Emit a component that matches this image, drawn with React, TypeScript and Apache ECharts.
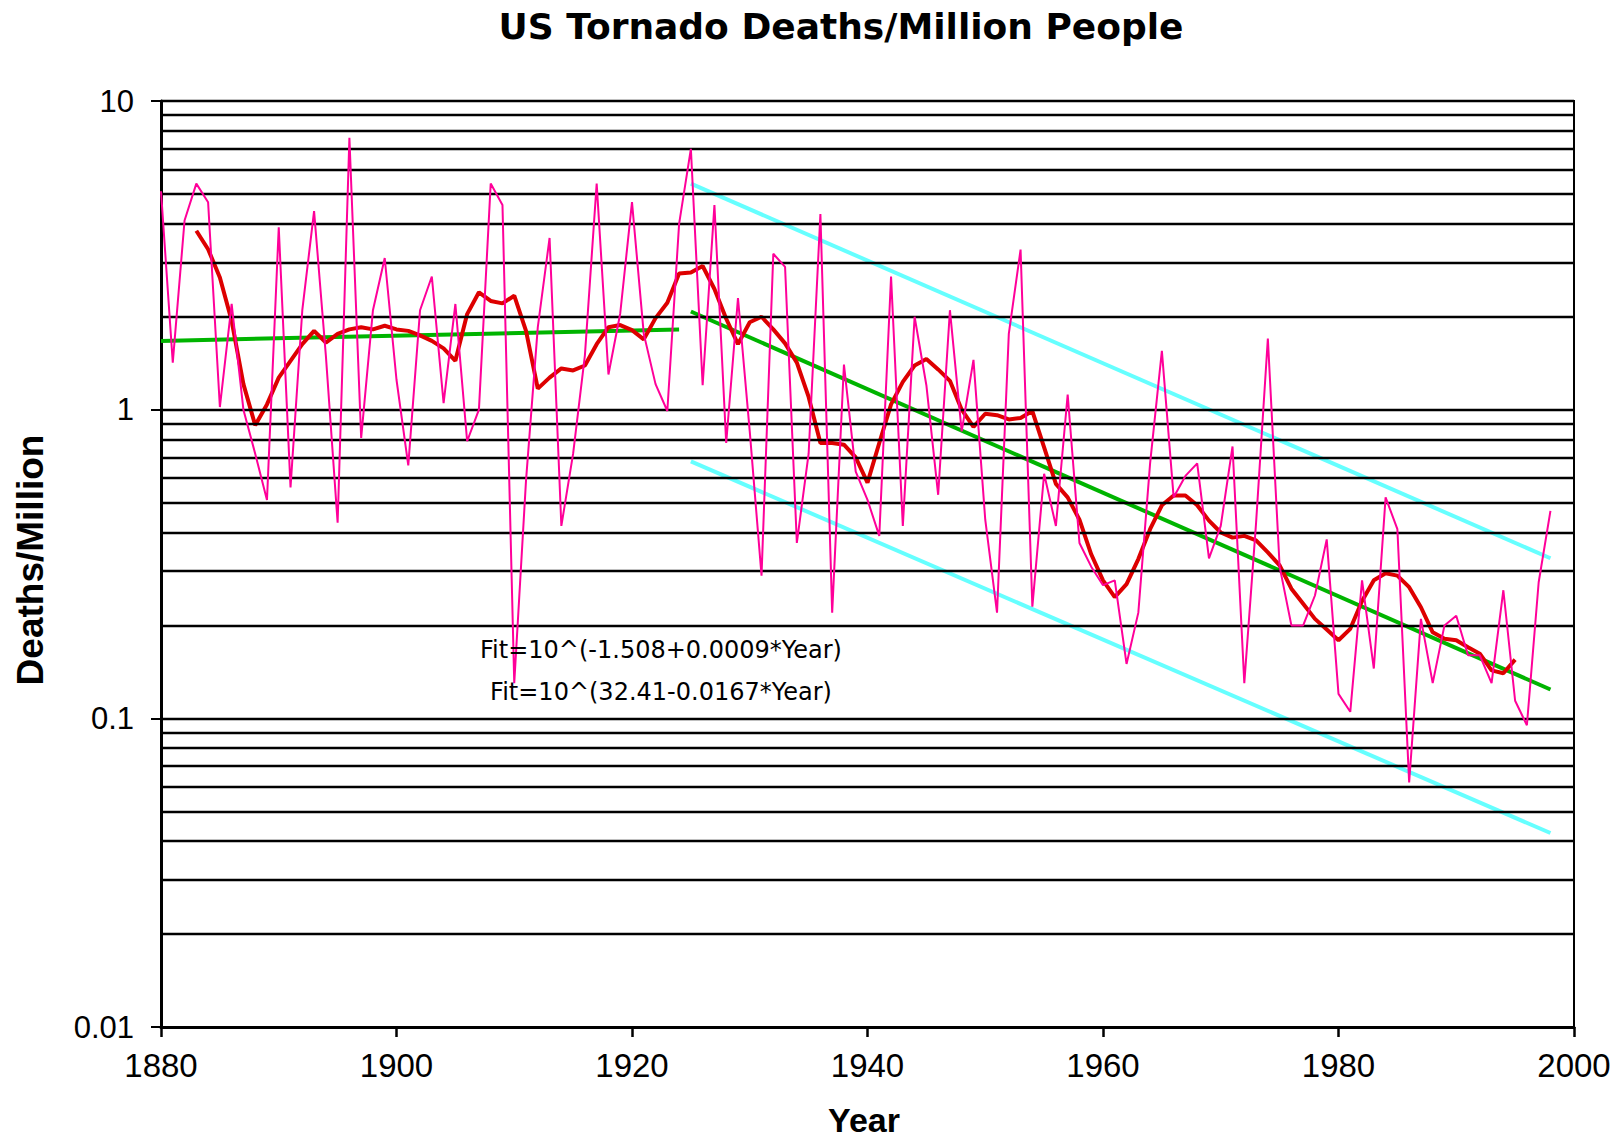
import React, { useEffect, useRef } from "react";
import * as echarts from "echarts";

// ---- data ----
const FIRST_YEAR = 1880;
const DEATHS_PER_MILLION = [
  5.1, 1.42, 4.1, 5.4, 4.7, 1.02, 2.2, 1.0, 0.72, 0.51,
  3.9, 0.56, 2.1, 4.4, 1.5, 0.43, 7.6, 0.81, 2.1, 3.1,
  1.25, 0.66, 2.1, 2.7, 1.05, 2.2, 0.79, 1.0, 5.4, 4.6,
  0.13, 0.59, 1.85, 3.6, 0.42, 0.72, 1.5, 5.4, 1.3, 2.05,
  4.7, 1.76, 1.21, 0.99, 4.0, 7.0, 1.2, 4.6, 0.78, 2.3,
  0.85, 0.29, 3.2, 2.9, 0.37, 0.72, 4.3, 0.22, 1.4, 0.63,
  0.51, 0.39, 2.7, 0.42, 2.0, 1.2, 0.53, 2.1, 0.85, 1.45,
  0.44, 0.22, 1.76, 3.3, 0.23, 0.62, 0.42, 1.12, 0.37, 0.31,
  0.27, 0.28, 0.15, 0.22, 0.67, 1.55, 0.52, 0.61, 0.67, 0.33,
  0.42, 0.76, 0.13, 0.43, 1.7, 0.31, 0.2, 0.2, 0.25, 0.38,
  0.12, 0.105, 0.28, 0.145, 0.52, 0.41, 0.062, 0.21, 0.13, 0.2,
  0.215, 0.16, 0.16, 0.13, 0.26, 0.114, 0.095, 0.276, 0.47,
];

const SMOOTH_FIRST_YEAR = 1883;
const SMOOTHED = [
  3.8, 3.31, 2.68, 1.94, 1.21, 0.89, 1.04,
  1.27, 1.44, 1.63, 1.8, 1.65, 1.76, 1.82, 1.85, 1.82, 1.87,
  1.82, 1.8, 1.74, 1.67, 1.58, 1.44, 2.04, 2.4, 2.25, 2.21,
  2.34, 1.8, 1.17, 1.27, 1.36, 1.34, 1.39, 1.63, 1.85, 1.88,
  1.81, 1.69, 1.98, 2.22, 2.76, 2.78, 2.92, 2.46, 1.97, 1.63,
  1.92, 2.0, 1.82, 1.64, 1.42, 1.1, 0.78, 0.78, 0.77, 0.7,
  0.58, 0.78, 1.04, 1.23, 1.39, 1.46, 1.35, 1.24, 1.0, 0.88,
  0.97, 0.96, 0.93, 0.94, 0.99, 0.755, 0.575, 0.52, 0.44, 0.34,
  0.28, 0.247, 0.272, 0.328, 0.41, 0.49, 0.527, 0.527, 0.49, 0.437,
  0.4, 0.385, 0.39, 0.377, 0.345, 0.313, 0.263, 0.235, 0.21, 0.194,
  0.179, 0.195, 0.24, 0.28, 0.295, 0.29, 0.266, 0.229, 0.19, 0.181,
  0.179, 0.17, 0.162, 0.143, 0.14, 0.155,
];

const FIT_EARLY = [[1880, 1.67], [1924, 1.82]];
const FIT_LATE = [[1925, 2.08], [1998, 0.124]];
const BAND_UPPER = [[1925, 5.4], [1998, 0.33]];
const BAND_LOWER = [[1925, 0.68], [1998, 0.0425]];

const GRID_LEVELS = [
  0.02, 0.03, 0.04, 0.05, 0.06, 0.07, 0.08, 0.09, 0.1,
  0.2, 0.3, 0.4, 0.5, 0.6, 0.7, 0.8, 0.9, 1,
  2, 3, 4, 5, 6, 7, 8, 9, 10,
];
const Y_TICK_LABELS: Record<string, string> = { "0.01": "0.01", "0.1": "0.1", "1": "1", "10": "10" };

const TITLE = "US Tornado Deaths/Million People";
const Y_NAME = "Deaths/Million";
const X_NAME = "Year";
const FIT_TEXT_1 = "Fit=10^(-1.508+0.0009*Year)";
const FIT_TEXT_2 = "Fit=10^(32.41-0.0167*Year)";

const PINK = "#ff0099";
const RED = "#dd0000";
const GREEN = "#00b400";
const CYAN = "#66ffff";

export default function App() {
  const ref = useRef<HTMLDivElement>(null);

  useEffect(() => {
    if (!ref.current) return;
    const chart = echarts.init(ref.current, undefined, { renderer: "svg" });

    const pink = DEATHS_PER_MILLION.map((v, i) => [FIRST_YEAR + i, v]);
    const red = SMOOTHED.map((v, i) => [SMOOTH_FIRST_YEAR + i, v]);

    const lineBase = {
      type: "line",
      showSymbol: false,
      symbol: "none",
      silent: true,
    };

    chart.setOption({
      animation: false,
      backgroundColor: "#ffffff",
      grid: {
        left: 161,
        right: 47,
        top: 101,
        bottom: 113,
        containLabel: false,
        outerBoundsMode: "none",
        show: true,
        borderColor: "#000",
        borderWidth: 2,
        backgroundColor: "transparent",
      },
      xAxis: {
        type: "value",
        min: 1880,
        max: 2000,
        interval: 20,
        splitLine: { show: false },
        axisLine: { show: true, onZero: false, lineStyle: { color: "#000", width: 3 } },
        axisTick: { show: true, inside: false, length: 10, lineStyle: { color: "#000", width: 2.5 } },
        axisLabel: {
          color: "#000",
          fontFamily: "Liberation Sans",
          fontSize: 33,
          margin: 22,
          formatter: (v: number) => String(v),
        },
      },
      yAxis: {
        type: "log",
        logBase: 10,
        min: 0.01,
        max: 10,
        splitLine: { show: false },
        minorTick: { show: false },
        axisLine: { show: true, lineStyle: { color: "#000", width: 3 } },
        axisTick: { show: true, inside: false, length: 10, lineStyle: { color: "#000", width: 2 } },
        axisLabel: {
          color: "#000",
          fontFamily: "Liberation Sans",
          fontSize: 31,
          margin: 27,
          padding: [0, 0, 14, 0],
          formatter: (v: number) => {
            const key = String(Number(v.toPrecision(6)));
            return Y_TICK_LABELS[key] ?? key;
          },
        },
      },
      graphic: [
        {
          type: "text",
          x: 841,
          y: 26,
          style: {
            text: TITLE,
            fontFamily: "DejaVu Sans",
            fontWeight: "bold",
            fontSize: 36,
            fill: "#000",
            textAlign: "center",
            textVerticalAlign: "middle",
          },
        },
        {
          type: "text",
          x: 30,
          y: 560,
          rotation: Math.PI / 2,
          style: {
            text: Y_NAME,
            fontFamily: "Liberation Sans",
            fontWeight: "bold",
            fontSize: 37,
            fill: "#000",
            textAlign: "center",
            textVerticalAlign: "middle",
          },
        },
        {
          type: "text",
          x: 864,
          y: 1120,
          style: {
            text: X_NAME,
            fontFamily: "Liberation Sans",
            fontWeight: "bold",
            fontSize: 34,
            fill: "#000",
            textAlign: "center",
            textVerticalAlign: "middle",
          },
        },
        {
          type: "text",
          x: 661,
          y: 650,
          z: 100,
          style: {
            text: FIT_TEXT_1,
            fontFamily: "DejaVu Sans",
            fontSize: 24,
            fill: "#000",
            textAlign: "center",
            textVerticalAlign: "middle",
          },
        },
        {
          type: "text",
          x: 661,
          y: 692,
          z: 100,
          style: {
            text: FIT_TEXT_2,
            fontFamily: "DejaVu Sans",
            fontSize: 24,
            fill: "#000",
            textAlign: "center",
            textVerticalAlign: "middle",
          },
        },
      ],
      series: [
        {
          ...lineBase,
          name: "grid",
          data: [[1880, 1]],
          lineStyle: { opacity: 0 },
          z: 1,
          markLine: {
            silent: true,
            symbol: ["none", "none"],
            label: { show: false },
            lineStyle: { color: "#000", width: 2.4, type: "solid" },
            data: GRID_LEVELS.map((v) => ({ yAxis: v })),
          },
        },
        { ...lineBase, name: "upper", data: BAND_UPPER, lineStyle: { color: CYAN, width: 4 }, z: 2 },
        { ...lineBase, name: "lower", data: BAND_LOWER, lineStyle: { color: CYAN, width: 4 }, z: 2 },
        { ...lineBase, name: "fit1", data: FIT_EARLY, lineStyle: { color: GREEN, width: 4 }, z: 3 },
        { ...lineBase, name: "fit2", data: FIT_LATE, lineStyle: { color: GREEN, width: 4 }, z: 3 },
        { ...lineBase, name: "smooth", data: red, lineStyle: { color: RED, width: 4 }, z: 4 },
        { ...lineBase, name: "annual", data: pink, lineStyle: { color: PINK, width: 2 }, z: 5 },
      ],
    });

    return () => chart.dispose();
  }, []);

  return (
    <div
      ref={ref}
      style={{ position: "absolute", left: 0, top: 0, width: 1621, height: 1140, background: "#fff" }}
    />
  );
}
